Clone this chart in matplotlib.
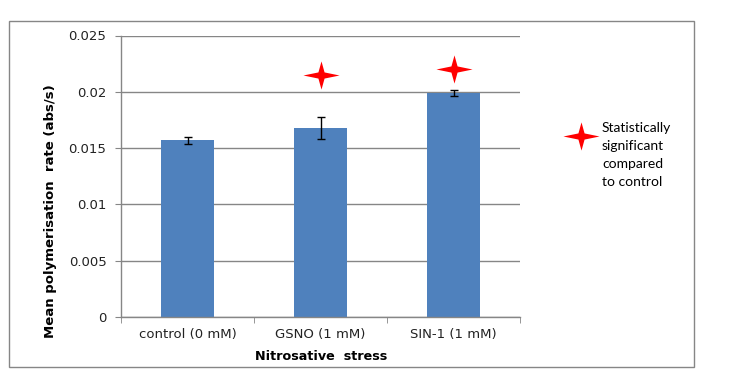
import matplotlib
matplotlib.use("Agg")
import matplotlib.pyplot as plt
from matplotlib.path import Path
from matplotlib.patches import Rectangle
import numpy as np

categories = ["control (0 mM)", "GSNO (1 mM)", "SIN-1 (1 mM)"]
means = [0.0157, 0.0168, 0.0199]
errors = [0.0003, 0.0010, 0.0003]
significant = [False, True, True]
star_levels = [None, 0.0215, 0.0220]
yticks = [0, 0.005, 0.01, 0.015, 0.02, 0.025]
ytick_labels = ["0", "0.005", "0.01", "0.015", "0.02", "0.025"]

# 4-pointed star marker
a, b, c = 1.0, 0.78, 0.17
star_verts = [(0, b), (c, c), (a, 0), (c, -c), (0, -b), (-c, -c), (-a, 0), (-c, c), (0, b)]
star_codes = [Path.MOVETO] + [Path.LINETO] * 7 + [Path.CLOSEPOLY]
star = Path(star_verts, star_codes)

fig = plt.figure(figsize=(7.37, 3.82), dpi=100)
W, H = 737, 382
ax = fig.add_axes([121 / W, 1 - 317 / H, (520 - 121) / W, (317 - 35.5) / H])

grey = "#868686"
x = np.arange(len(categories))
ax.bar(x, means, width=0.40, color="#4F81BD", zorder=2)
ax.errorbar(x, means, yerr=errors, fmt="none", ecolor="black", elinewidth=1.0,
            capsize=2.6, capthick=1.0, zorder=3)
for xi, sig, lvl in zip(x, significant, star_levels):
    if sig:
        ax.plot(xi, lvl, marker=star, markersize=26, color="#FF0000",
                markeredgewidth=0, linestyle="none", zorder=4)

ax.set_xlim(-0.5, 2.5)
ax.set_ylim(0, 0.025)
ax.set_yticks(yticks)
ax.set_yticklabels(ytick_labels, fontsize=9.5, color="#222222")
ax.yaxis.grid(True, color=grey, linewidth=1.0, zorder=0)
ax.set_axisbelow(True)
ax.tick_params(axis="y", length=4, color=grey, pad=6.5)
ax.set_xticks(x)
ax.set_xticklabels(categories, fontsize=9.5, color="#222222")
ax.tick_params(axis="x", which="major", length=0, pad=8)
ax.set_xticks([-0.5, 0.5, 1.5, 2.5], minor=True)
ax.tick_params(axis="x", which="minor", length=4, color=grey)
for s in ["top", "right"]:
    ax.spines[s].set_visible(False)
for s in ["left", "bottom"]:
    ax.spines[s].set_color(grey)
    ax.spines[s].set_linewidth(1.0)

fig.text(321 / W, 1 - 356 / H, "Nitrosative  stress", ha="center", va="center",
         fontsize=9.2, fontweight="bold", color="black")
fig.text(51 / W, 1 - 211 / H, "Mean polymerisation  rate (abs/s)", ha="center",
         va="center", rotation=90, fontsize=9.5, fontweight="bold", color="black")

# legend
fig.add_artist(plt.Line2D([581 / W], [1 - 136 / H], marker=star, markersize=26,
                          color="#FF0000", markeredgewidth=0, linestyle="none",
                          transform=fig.transFigure))
fig.text(602 / W, 1 - 122 / H, "Statistically\nsignificant\ncompared\nto control",
         ha="left", va="top", fontsize=10, family="Lato", linespacing=1.6,
         color="black")

# outer border
fig.add_artist(Rectangle((8.5 / W, 1 - 367 / H), (694 - 8.5) / W, (367 - 20.5) / H,
                         transform=fig.transFigure, fill=False, edgecolor=grey,
                         linewidth=1.0))

fig.savefig("out.png", dpi=100, facecolor="white")
